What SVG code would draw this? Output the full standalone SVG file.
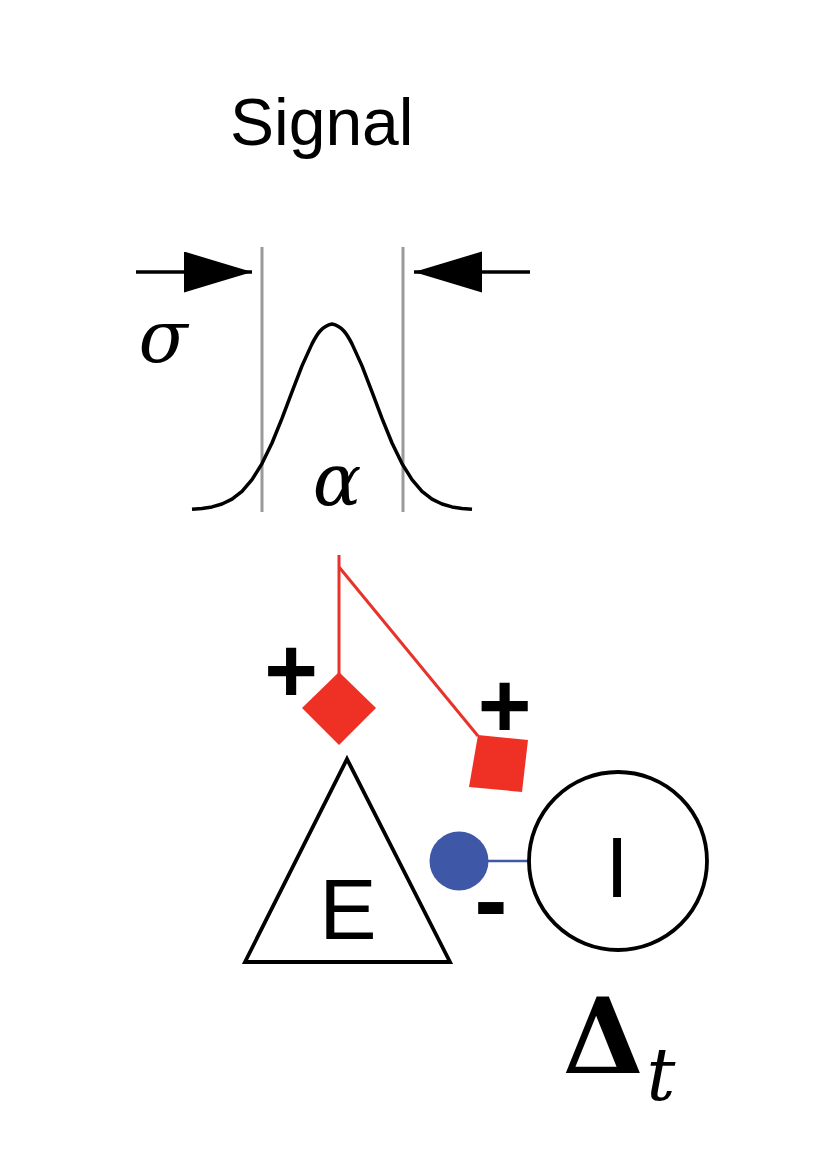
<svg xmlns="http://www.w3.org/2000/svg" width="815" height="1173" viewBox="0 0 815 1173">
<style>
.sans{font-family:"Liberation Sans",Arial,sans-serif;fill:#000}
.serif{font-family:"DejaVu Serif","Liberation Serif",serif;fill:#000}
.it{font-style:italic}
.bold{font-weight:bold}
.grey{stroke:#9a9a9a;stroke-width:3;fill:none}
.blk{stroke:#000;stroke-width:3.5;fill:none}
.red{stroke:#e8332a;stroke-width:3;fill:none}
.redf{fill:#ee3124;stroke:none}
.blue{stroke:#4058a6;stroke-width:2.5;fill:none}
.bluef{fill:#3f57a7;stroke:none}
.node{fill:#fff;stroke:#000;stroke-width:3.8;stroke-linejoin:miter}
</style>
<defs>
<marker id="ah" markerUnits="userSpaceOnUse" markerWidth="70" markerHeight="42" refX="68" refY="20.5" orient="auto">
<path d="M0,0 L68,20.5 L0,41 Z" fill="#000"/>
</marker>
</defs>
<rect width="815" height="1173" fill="#fff"/>
<g id="signal">
<text class="sans" x="230" y="145" font-size="66">Signal</text>
<line class="grey" x1="262" y1="247" x2="262" y2="512"/>
<line class="grey" x1="403" y1="247" x2="403" y2="512"/>
<path class="blk" stroke-width="4" stroke-linejoin="round" d="M192,509.3 L202,508.5 L212,506.9 L222,504 L232,499.1 L242,491.3 L252,479.7 L262,463.6 L272,443 L282,418.4 L292,391.8 L302,365.9 L312,343.9 C317,334 322,326 332,324 C342,326 347,334 352,343.9 L362,365.9 L372,391.8 L382,418.4 L392,443 L402,463.6 L412,479.7 L422,491.3 L432,499.1 L442,504 L452,506.9 L462,508.5 L472,509.3"/>
<text class="serif it" x="163" y="362" font-size="72" text-anchor="middle">σ</text>
<text class="serif it" x="337" y="505" font-size="72" text-anchor="middle">α</text>
</g>
<g id="connectors">
<line class="blk" x1="136" y1="272" x2="252" y2="272" marker-end="url(#ah)"/>
<line class="blk" x1="530" y1="272" x2="414" y2="272" marker-end="url(#ah)"/>
<polyline class="red" points="339,555 339,674"/>
<line class="red" x1="339" y1="567" x2="478" y2="736"/>
<line class="blue" x1="486" y1="861" x2="530" y2="861"/>
</g>
<g id="synapse-e">
<polygon class="redf" points="339,672 376,708 339,745 302,708"/>
<text class="sans bold" x="291" y="702" font-size="92" text-anchor="middle">+</text>
</g>
<g id="synapse-i">
<polygon class="redf" points="478,735 528,740 522,792 469,787"/>
<text class="sans bold" x="504.5" y="737" font-size="92" text-anchor="middle">+</text>
</g>
<g id="synapse-inh">
<circle class="bluef" cx="459" cy="861" r="29.5"/>
<text class="sans bold" x="491" y="934" font-size="100" text-anchor="middle">-</text>
</g>
<g id="node-e">
<polygon class="node" points="347,759 450,962 245,962"/>
<text class="sans" x="348" y="939" font-size="86" text-anchor="middle">E</text>
</g>
<g id="node-i">
<circle class="node" cx="618" cy="861" r="89"/>
<text class="sans" x="617" y="897" font-size="85" text-anchor="middle">I</text>
</g>
<g id="delta">
<text class="serif bold" x="603" y="1073" font-size="104" text-anchor="middle">Δ</text>
<text class="serif it" x="661" y="1100" font-size="72" text-anchor="middle">t</text>
</g>
</svg>
